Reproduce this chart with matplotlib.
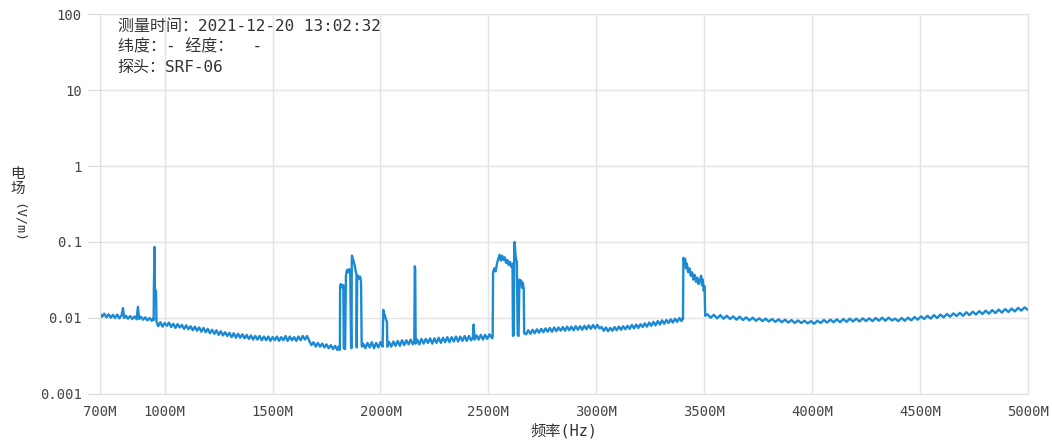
#!/usr/bin/env python3

import matplotlib
matplotlib.use("Agg")
import matplotlib.pyplot as plt

# spectrum, frequency in MHz, field in V/m
freq_a = [700, 710, 720, 730, 740, 750, 760, 770, 780, 790, 800, 807, 812, 820, 830, 840,
          850, 860, 870, 876, 882, 890, 900, 910, 920, 930, 940, 946]
field_a = [0.0115, 0.0104, 0.0114, 0.0102, 0.0112, 0.0101, 0.0110, 0.0100, 0.0111, 0.0099, 0.0108, 0.0135, 0.0100, 0.0107,
           0.0098, 0.0106, 0.0097, 0.0105, 0.0096, 0.0140, 0.0097, 0.0104, 0.0095, 0.0102, 0.0093, 0.0100, 0.0092, 0.0098]

# spur at ~955 MHz
freq_b = [949, 950, 953, 954, 956, 958, 960, 962]
field_b = [0.0094, 0.025, 0.086, 0.025, 0.024, 0.023, 0.022, 0.0090]

freq_c = [970, 980, 990, 1000, 1010, 1020, 1030, 1040, 1050, 1060, 1070, 1080, 1090, 1100, 1110, 1120,
          1130, 1140, 1150, 1160, 1170, 1180, 1190, 1200, 1210, 1220, 1230, 1240, 1250, 1260, 1270, 1280,
          1290, 1300, 1310, 1320, 1330, 1340, 1350, 1360, 1370, 1380, 1390, 1400, 1410, 1420, 1430, 1440,
          1450, 1460, 1470, 1480, 1490, 1500, 1510, 1520, 1530, 1540, 1550, 1560, 1570, 1580, 1590, 1600,
          1610, 1620, 1630, 1640, 1650, 1660, 1670, 1680, 1690, 1700, 1710, 1720, 1730, 1740, 1750, 1760,
          1770, 1780, 1790, 1800, 1806, 1811]
field_c = [0.0078, 0.0088, 0.0077, 0.0086, 0.0079, 0.0087, 0.0076, 0.0084, 0.0074, 0.0083, 0.0075, 0.0081, 0.0072, 0.0080, 0.0071, 0.0078,
           0.0069, 0.0077, 0.0068, 0.0075, 0.0066, 0.0074, 0.0065, 0.0072, 0.0063, 0.0070, 0.0062, 0.0069, 0.0060, 0.0067, 0.0059, 0.0065,
           0.0058, 0.0064, 0.0056, 0.0063, 0.0055, 0.0062, 0.0055, 0.0061, 0.0054, 0.0060, 0.0053, 0.0059, 0.0052, 0.0058, 0.0052, 0.0058,
           0.0051, 0.0057, 0.0051, 0.0057, 0.0050, 0.0056, 0.0051, 0.0057, 0.0050, 0.0056, 0.0051, 0.0058, 0.0050, 0.0057, 0.0051, 0.0056,
           0.0050, 0.0057, 0.0051, 0.0058, 0.0052, 0.0058, 0.0050, 0.0044, 0.0048, 0.0042, 0.0047, 0.0042, 0.0046, 0.0041, 0.0045, 0.0040,
           0.0044, 0.0039, 0.0043, 0.0038, 0.0042, 0.0038]

# burst group 1810-1915 MHz
freq_d = [1812, 1813, 1816, 1820, 1824, 1828, 1830, 1836, 1840, 1845, 1850, 1855, 1860, 1864, 1866, 1867,
          1868, 1870, 1874, 1878, 1882, 1886, 1889, 1890, 1892, 1896, 1900, 1906, 1910, 1913, 1915]
field_d = [0.0040, 0.026, 0.028, 0.027, 0.025, 0.027, 0.0040, 0.0039, 0.036, 0.043, 0.040, 0.044, 0.038, 0.0042, 0.0040, 0.055,
           0.066, 0.062, 0.058, 0.052, 0.047, 0.040, 0.038, 0.0041, 0.034, 0.036, 0.033, 0.035, 0.030, 0.0043, 0.0042]

freq_e = [1920, 1930, 1940, 1950, 1960, 1970, 1980, 1990, 2000, 2010, 2013, 2015, 2020, 2025, 2030, 2032,
          2040, 2050, 2060, 2070, 2080, 2090, 2100, 2110, 2120, 2130, 2140, 2150, 2157, 2159, 2161, 2163,
          2170, 2180, 2190, 2200, 2210, 2220, 2230, 2240, 2250, 2260, 2270, 2280, 2290, 2300, 2310, 2320,
          2330, 2340, 2350, 2360, 2370, 2380, 2390, 2400, 2410, 2420, 2428, 2432, 2436, 2445, 2455, 2465,
          2475, 2485, 2495, 2505, 2518]
field_e = [0.0046, 0.0040, 0.0047, 0.0041, 0.0048, 0.0040, 0.0047, 0.0041, 0.0048, 0.0042, 0.0128, 0.0118, 0.0110, 0.0096, 0.0090, 0.0042,
           0.0048, 0.0042, 0.0049, 0.0043, 0.0050, 0.0043, 0.0051, 0.0044, 0.0051, 0.0045, 0.0052, 0.0045, 0.0050, 0.048, 0.045, 0.0046,
           0.0052, 0.0045, 0.0053, 0.0046, 0.0053, 0.0047, 0.0054, 0.0046, 0.0054, 0.0047, 0.0055, 0.0047, 0.0055, 0.0048, 0.0056, 0.0048,
           0.0056, 0.0049, 0.0057, 0.0049, 0.0057, 0.0050, 0.0058, 0.0050, 0.0058, 0.0051, 0.0055, 0.0082, 0.0052, 0.0059, 0.0052, 0.0060,
           0.0052, 0.0060, 0.0053, 0.0061, 0.0054]

# wideband burst 2520-2665 MHz
freq_f = [2520, 2522, 2528, 2534, 2540, 2546, 2552, 2558, 2564, 2570, 2576, 2582, 2588, 2594, 2600, 2606,
          2612, 2614, 2618, 2620, 2622, 2625, 2628, 2632, 2636, 2640, 2644, 2648, 2652, 2656, 2660, 2664, 2666]
field_f = [0.0058, 0.040, 0.045, 0.041, 0.052, 0.060, 0.068, 0.057, 0.066, 0.058, 0.063, 0.053, 0.058, 0.050, 0.055, 0.047,
           0.052, 0.0058, 0.0060, 0.085, 0.100, 0.072, 0.060, 0.055, 0.0060, 0.0058, 0.032, 0.028, 0.031, 0.025, 0.029, 0.024, 0.0063]

freq_g = [2675, 2685, 2695, 2705, 2715, 2725, 2735, 2745, 2755, 2765, 2775, 2785, 2795, 2805, 2815, 2825,
          2835, 2845, 2855, 2865, 2875, 2885, 2895, 2905, 2915, 2925, 2935, 2945, 2955, 2965, 2975, 2985,
          2995, 3005, 3015, 3025, 3035, 3045, 3055, 3065, 3075, 3085, 3095, 3105, 3115, 3125, 3135, 3145,
          3155, 3165, 3175, 3185, 3195, 3205, 3215, 3225, 3235, 3245, 3255, 3265, 3275, 3285, 3295, 3305,
          3315, 3325, 3335, 3345, 3355, 3365, 3375, 3385, 3395, 3400]
field_g = [0.0061, 0.0069, 0.0062, 0.0070, 0.0063, 0.0071, 0.0064, 0.0072, 0.0065, 0.0073, 0.0066, 0.0074, 0.0066, 0.0075, 0.0067, 0.0075,
           0.0068, 0.0076, 0.0068, 0.0077, 0.0069, 0.0077, 0.0069, 0.0078, 0.0070, 0.0078, 0.0070, 0.0079, 0.0071, 0.0080, 0.0072, 0.0081,
           0.0073, 0.0081, 0.0073, 0.0076, 0.0068, 0.0075, 0.0067, 0.0074, 0.0068, 0.0076, 0.0069, 0.0077, 0.0070, 0.0078, 0.0071, 0.0079,
           0.0072, 0.0081, 0.0073, 0.0082, 0.0074, 0.0083, 0.0076, 0.0085, 0.0077, 0.0087, 0.0079, 0.0089, 0.0080, 0.0091, 0.0082, 0.0093,
           0.0084, 0.0094, 0.0086, 0.0096, 0.0087, 0.0098, 0.0089, 0.0100, 0.0091, 0.0099]

# burst 3400-3505 MHz
freq_h = [3402, 3404, 3408, 3412, 3416, 3420, 3426, 3432, 3438, 3444, 3450, 3456, 3462, 3468, 3474, 3480,
          3486, 3490, 3494, 3498, 3502, 3505]
field_h = [0.0098, 0.062, 0.055, 0.060, 0.045, 0.052, 0.040, 0.045, 0.036, 0.040, 0.032, 0.037, 0.030, 0.034, 0.028, 0.031,
           0.036, 0.027, 0.032, 0.023, 0.026, 0.0107]

freq_i = [3515, 3530, 3545, 3560, 3575, 3590, 3605, 3620, 3635, 3650, 3665, 3680, 3695, 3710, 3725, 3740,
          3755, 3770, 3785, 3800, 3815, 3830, 3845, 3860, 3875, 3890, 3905, 3920, 3935, 3950, 3965, 3980,
          3995, 4010, 4025, 4040, 4055, 4070, 4085, 4100, 4115, 4130, 4145, 4160, 4175, 4190, 4205, 4220,
          4235, 4250, 4265, 4280, 4295, 4310, 4325, 4340, 4355, 4370, 4385, 4400, 4415, 4430, 4445, 4460,
          4475, 4490, 4505, 4520, 4535, 4550, 4565, 4580, 4595, 4610, 4625, 4640, 4655, 4670, 4685, 4700,
          4715, 4730, 4745, 4760, 4775, 4790, 4805, 4820, 4835, 4850, 4865, 4880, 4895, 4910, 4925, 4940,
          4955, 4970, 4985, 5000]
field_i = [0.0112, 0.0101, 0.0110, 0.0099, 0.0109, 0.0098, 0.0107, 0.0097, 0.0105, 0.0095,
           0.0104, 0.0094, 0.0102, 0.0093, 0.0101, 0.0092, 0.0099, 0.0091, 0.0098, 0.0090,
           0.0097, 0.0089, 0.0096, 0.0088, 0.0095, 0.0087, 0.0094, 0.0086, 0.0093, 0.0086,
           0.0092, 0.0085, 0.0091, 0.0084, 0.0092, 0.0086, 0.0094, 0.0087, 0.0095, 0.0088,
           0.0096, 0.0088, 0.0097, 0.0089, 0.0098, 0.0090, 0.0098, 0.0090, 0.0099, 0.0091,
           0.0099, 0.0091, 0.0100, 0.0092, 0.0101, 0.0092, 0.0101, 0.0093, 0.0098, 0.0091,
           0.0100, 0.0092, 0.0101, 0.0093, 0.0103, 0.0095, 0.0105, 0.0097, 0.0107, 0.0098,
           0.0109, 0.0100, 0.0111, 0.0102, 0.0113, 0.0104, 0.0115, 0.0106, 0.0117, 0.0107,
           0.0119, 0.0109, 0.0121, 0.0111, 0.0123, 0.0113, 0.0125, 0.0114, 0.0127, 0.0116,
           0.0129, 0.0118, 0.0131, 0.0120, 0.0133, 0.0122, 0.0136, 0.0125, 0.0138, 0.0128]

x_ticks = [700, 1000, 1500, 2000, 2500, 3000, 3500, 4000, 4500, 5000]
x_tick_labels = ["700M", "1000M", "1500M", "2000M", "2500M", "3000M", "3500M", "4000M", "4500M", "5000M"]
y_ticks = [0.001, 0.01, 0.1, 1, 10, 100]
y_tick_labels = ["0.001", "0.01", "0.1", "1", "10", "100"]

info_lines = ["测量时间：2021-12-20 13:02:32", "纬度：- 经度：  -", "探头：SRF-06"]

freqs = freq_a + freq_b + freq_c + freq_d + freq_e + freq_f + freq_g + freq_h + freq_i
fields = field_a + field_b + field_c + field_d + field_e + field_f + field_g + field_h + field_i

mono = ["DejaVu Sans Mono", "Noto Sans CJK SC"]
text_col = "#444444"
line_col = "#1b8ad3"

fig = plt.figure(figsize=(10.52, 4.46), dpi=100)
ax = fig.add_axes([0.095, 0.1166, 0.882, 0.852])
ax.plot(freqs, fields, color=line_col, lw=1.7)

ax.set_yscale("log")
ax.set_xlim(700, 5000)
ax.set_ylim(0.001, 100)
ax.set_xticks(x_ticks)
ax.set_xticklabels(x_tick_labels, family=mono, fontsize=10, color=text_col)
ax.set_yticks(y_ticks)
ax.set_yticklabels(y_tick_labels, family=mono, fontsize=10, color=text_col)
ax.minorticks_off()
ax.tick_params(axis="x", length=0, pad=8)
ax.tick_params(axis="y", length=9, color="#d8d8d8", pad=4)
ax.grid(True, color="#e3e3e3", lw=1)
for sp in ax.spines.values():
    sp.set_color("#e0e0e0")

# info block, top left inside the plot
info_y = [0.966, 0.913, 0.861]
for line, yy in zip(info_lines, info_y):
    ax.text(0.019, yy, line, transform=ax.transAxes, family=mono, fontsize=11.5,
            color="#333333", va="center")

ax.set_xlabel("频率(Hz)", family=mono, fontsize=11, color="#333333", labelpad=3)
fig.text(0.017, 0.595, "电\n场", family=mono, fontsize=10.5, color="#333333",
         ha="center", va="center", linespacing=1.0)
fig.text(0.017, 0.50, "(V/m)", family=mono, fontsize=9.5, color="#333333",
         ha="center", va="center", rotation=-90)

fig.savefig("out.png", dpi=100)
